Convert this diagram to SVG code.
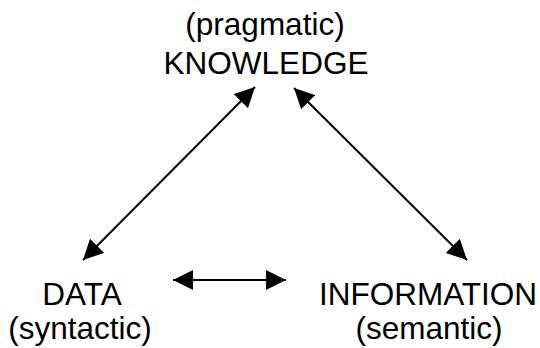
<svg xmlns="http://www.w3.org/2000/svg" width="540" height="348" viewBox="0 0 540 348">
  <style>
    .lbl { font-family: "Liberation Sans", Arial, sans-serif; font-size: 31.5px; fill: #000; text-anchor: middle; }
    .link { stroke: #000; stroke-width: 2; fill: none; marker-start: url(#head); marker-end: url(#head); }
  </style>
  <defs>
    <marker id="head" markerUnits="userSpaceOnUse" markerWidth="20" markerHeight="20" refX="20" refY="10" orient="auto-start-reverse" viewBox="0 0 20 20">
      <path d="M0,0 L20,10 L0,20 z" fill="#000"/>
    </marker>
  </defs>
  <rect width="540" height="348" fill="#fff"/>

  <g id="connectors">
    <line class="link" x1="83" y1="260" x2="255" y2="87"/>
    <line class="link" x1="294" y1="88" x2="467" y2="260"/>
    <line class="link" x1="173" y1="280" x2="286" y2="280"/>
  </g>

  <g id="knowledge">
    <text class="lbl" x="265" y="35">(pragmatic)</text>
    <text class="lbl" x="266" y="74">KNOWLEDGE</text>
  </g>
  <g id="data">
    <text class="lbl" x="82" y="305">DATA</text>
    <text class="lbl" x="80" y="339">(syntactic)</text>
  </g>
  <g id="information">
    <text class="lbl" x="428" y="305">INFORMATION</text>
    <text class="lbl" x="429" y="339">(semantic)</text>
  </g>
</svg>
